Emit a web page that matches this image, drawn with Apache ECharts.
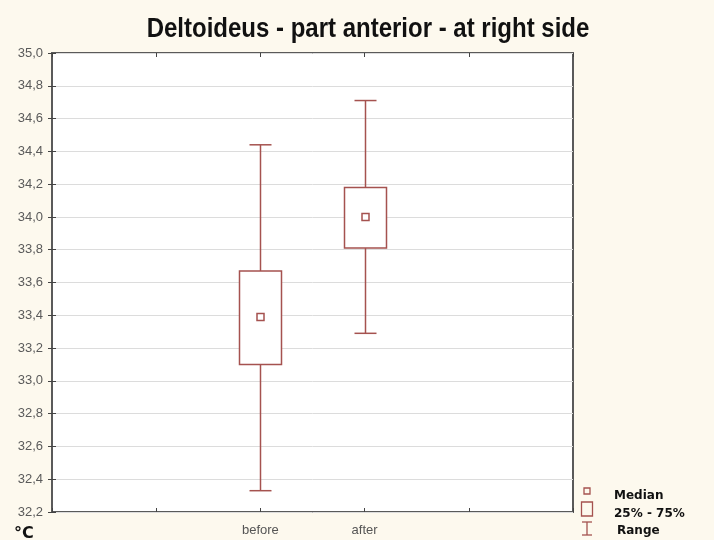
<!DOCTYPE html>
<html><head><meta charset="utf-8">
<script src="https://cdn.jsdelivr.net/npm/echarts@6/dist/echarts.min.js"></script>
<style>html,body{margin:0;padding:0;background:#fdf9ee;}#c{width:714px;height:540px;}</style>
</head><body><div id="c"></div>
<script>
const categories = ['before', 'after'];
const positions = [2, 3];
const mins = [32.33, 33.29];
const q1s = [33.10, 33.81];
const medians = [33.39, 34.00];
const q3s = [33.67, 34.18];
const maxs = [34.44, 34.71];
const yTicks = [32.2, 32.4, 32.6, 32.8, 33.0, 33.2, 33.4, 33.6, 33.8, 34.0, 34.2, 34.4, 34.6, 34.8, 35.0];
const titleText = 'Deltoideus - part anterior - at right side';

const boxColor = '#a5524f';
const data = categories.map((c, i) => [positions[i], mins[i], q1s[i], medians[i], q3s[i], maxs[i]]);

const chart = echarts.init(document.getElementById('c'));
chart.setOption({
  backgroundColor: '#fdf9ee',
  animation: false,
  grid: {left: 52, top: 53, right: 141, bottom: 28, show: true, backgroundColor: '#fff', borderColor: '#5a5a5a', borderWidth: 2},
  xAxis: [{
    type: 'value', min: 0, max: 5, interval: 1, position: 'bottom',
    axisLine: {show: false},
    axisTick: {show: true, inside: true, length: 4, lineStyle: {color: '#444'}},
    splitLine: {show: false},
    axisLabel: {
      margin: 12, color: '#555', fontFamily: 'Liberation Sans', fontSize: 13,
      formatter: v => { const k = positions.indexOf(v); return k >= 0 ? categories[k] : ''; }
    }
  }, {
    type: 'value', min: 0, max: 5, interval: 1, position: 'top',
    axisLine: {show: false},
    axisTick: {show: true, inside: true, length: 4, lineStyle: {color: '#444'}},
    splitLine: {show: false}, axisLabel: {show: false}
  }],
  yAxis: [{
    type: 'value', min: 32.2, max: 35.0, interval: 0.2, position: 'left',
    axisLine: {show: false},
    axisTick: {show: true, inside: true, length: 4, lineStyle: {color: '#444'}},
    splitLine: {show: true, lineStyle: {color: '#dcdcdc', width: 1}},
    axisLabel: {
      margin: 9, color: '#5a5a5a', fontFamily: 'Liberation Sans', fontSize: 13,
      formatter: v => { const t = yTicks.find(x => Math.abs(x - v) < 1e-6); return (t !== undefined ? t : v).toFixed(1).replace('.', ','); }
    }
  }, {
    type: 'value', min: 32.2, max: 35.0, interval: 0.2, position: 'right',
    axisLine: {show: false},
    axisTick: {show: true, inside: true, length: 4, lineStyle: {color: '#444'}},
    splitLine: {show: false}, axisLabel: {show: false}
  }],
  series: [{
    type: 'custom',
    xAxisIndex: 0, yAxisIndex: 0,
    data: data,
    renderItem: function (params, api) {
      const x = api.value(0);
      const pMin = api.coord([x, api.value(1)]);
      const pQ1 = api.coord([x, api.value(2)]);
      const pMed = api.coord([x, api.value(3)]);
      const pQ3 = api.coord([x, api.value(4)]);
      const pMax = api.coord([x, api.value(5)]);
      const bw = 42, cw = 22, ms = 7;
      const cx = Math.round(pMed[0]) + 0.5;
      const st = {stroke: boxColor, lineWidth: 1.5, fill: null};
      return {
        type: 'group',
        children: [
          {type: 'line', shape: {x1: cx, y1: pMax[1], x2: cx, y2: pQ3[1]}, style: st},
          {type: 'line', shape: {x1: cx, y1: pQ1[1], x2: cx, y2: pMin[1]}, style: st},
          {type: 'line', shape: {x1: cx - cw / 2, y1: pMax[1], x2: cx + cw / 2, y2: pMax[1]}, style: st},
          {type: 'line', shape: {x1: cx - cw / 2, y1: pMin[1], x2: cx + cw / 2, y2: pMin[1]}, style: st},
          {type: 'rect', shape: {x: cx - bw / 2, y: pQ3[1], width: bw, height: pQ1[1] - pQ3[1]}, style: {stroke: boxColor, lineWidth: 1.5, fill: '#fff'}},
          {type: 'rect', shape: {x: cx - ms / 2, y: pMed[1] - ms / 2, width: ms, height: ms}, style: {stroke: boxColor, lineWidth: 1.5, fill: '#fff'}}
        ]
      };
    }
  }],
  graphic: [
    {type: 'text', x: 368, y: 30, scaleY: 1.12, style: {text: titleText, font: 'bold 24px "Liberation Sans"', fill: '#111', align: 'center', verticalAlign: 'middle'}},
    {type: 'text', left: 14, top: 526, style: {text: '°C', font: 'bold 16px "DejaVu Sans"', fill: '#111'}},
    {type: 'rect', shape: {x: 584, y: 488, width: 6, height: 6}, style: {stroke: boxColor, lineWidth: 1.3, fill: 'none'}},
    {type: 'rect', shape: {x: 581.5, y: 502, width: 11, height: 14}, style: {stroke: boxColor, lineWidth: 1.3, fill: 'none'}},
    {type: 'line', shape: {x1: 587, y1: 522, x2: 587, y2: 535}, style: {stroke: boxColor, lineWidth: 1.3}},
    {type: 'line', shape: {x1: 582, y1: 522, x2: 592, y2: 522}, style: {stroke: boxColor, lineWidth: 1.3}},
    {type: 'line', shape: {x1: 582, y1: 535, x2: 592, y2: 535}, style: {stroke: boxColor, lineWidth: 1.3}},
    {type: 'text', left: 614, top: 490, style: {text: 'Median', font: 'bold 12px "DejaVu Sans"', fill: '#111'}},
    {type: 'text', left: 614, top: 508, style: {text: '25% - 75%', font: 'bold 12px "DejaVu Sans"', fill: '#111'}},
    {type: 'text', left: 617, top: 525, style: {text: 'Range', font: 'bold 12px "DejaVu Sans"', fill: '#111'}}
  ]
});
</script></body></html>
